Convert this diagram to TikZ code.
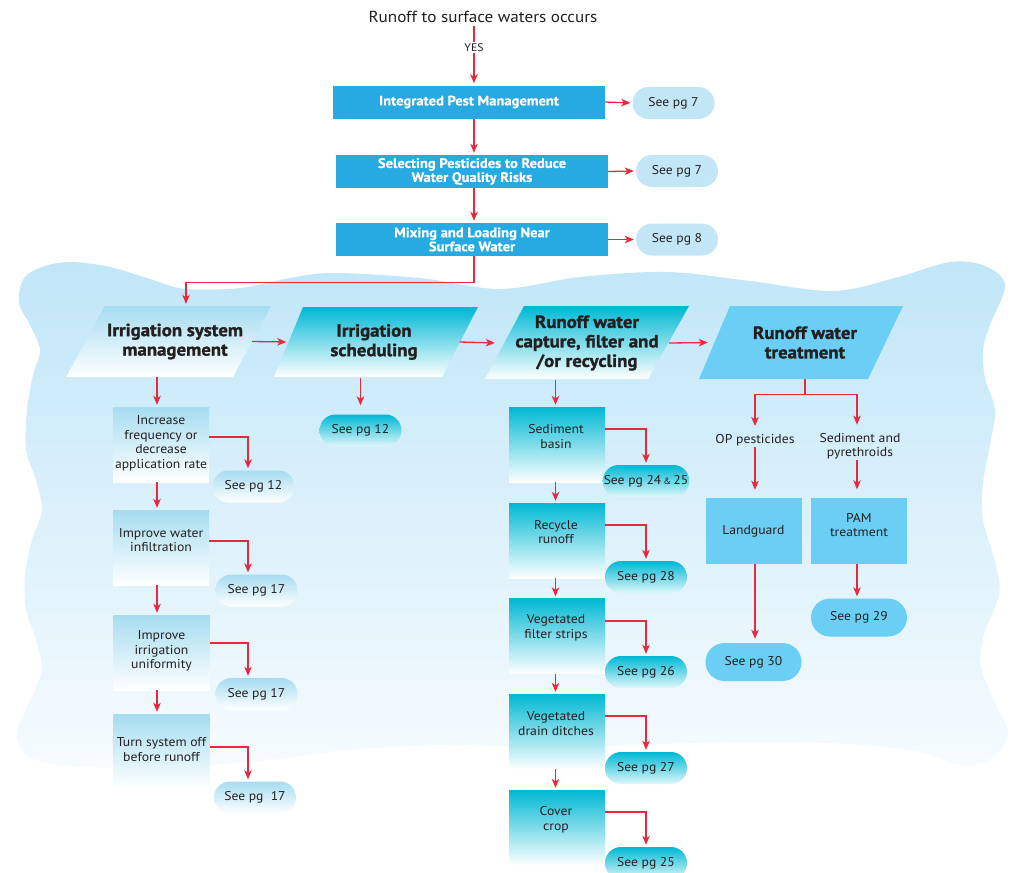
\documentclass[tikz,border=0pt]{standalone}
\usepackage{fontspec}
\setmainfont[FakeStretch=1.07, BoldFeatures={FakeBold=0.6}]{PT Sans}
\newfontfamily\heavyfont[FakeStretch=1.07, BoldFeatures={FakeBold=1.4}]{PT Sans}
\usetikzlibrary{arrows.meta,shapes.misc,calc}
\definecolor{arrred}{HTML}{E8283C}
\definecolor{boxblue}{HTML}{27AAE1}
\definecolor{pillblue}{HTML}{C3E6F7}
\definecolor{lblue}{HTML}{A6DCF0}
\definecolor{cyanc}{HTML}{00B8D4}
\definecolor{skyb}{HTML}{6BCFF5}
\definecolor{bgtop}{HTML}{C0E6F8}
\definecolor{bgbot}{HTML}{F6FBFE}
\definecolor{txt}{HTML}{231F20}
\begin{document}
\begin{tikzpicture}[x=1pt,y=-1pt,
  arr/.style={draw=arrred, line width=1.3pt, shorten >=2pt, -{Stealth[length=9pt,width=7.5pt,inset=2.5pt]}},
  mainbox/.style={rectangle, fill=boxblue, text=white, font=\bfseries\fontsize{13.6}{14}\selectfont, align=center, minimum width=272pt, minimum height=33pt, inner sep=0pt},
  pill/.style={rounded rectangle, minimum width=82pt, minimum height=32pt, inner sep=0pt, text=txt, font=\fontsize{12.7}{15}\selectfont},
  pillL/.style={pill, fill=pillblue},
  pillA/.style={pill, top color=lblue, bottom color=white},
  pillC/.style={pill, top color=cyanc, bottom color=cyanc!12!white},
  pillS/.style={pill, fill=skyb, minimum width=96pt, minimum height=38pt},
  head/.style={rectangle, text=txt, font=\heavyfont\bfseries\fontsize{17.6}{19.5}\selectfont, align=center, minimum height=71pt, inner sep=0pt},
  abox/.style={rectangle, top color=lblue, bottom color=white, minimum width=96pt, minimum height=75pt, inner sep=0pt},
  cbox/.style={rectangle, top color=cyanc, bottom color=white, minimum width=96pt, minimum height=75pt, inner sep=0pt},
  sbox/.style={rectangle, fill=skyb, minimum width=96pt, minimum height=66pt, inner sep=0pt, text=txt, align=center, font=\fontsize{12.8}{14.5}\selectfont},
  ctext/.style={text=txt, align=center, font=\fontsize{12.8}{14.5}\selectfont, inner sep=1pt},
  yesl/.style={fill=white, text=txt, font=\fontsize{11}{12}\selectfont, inner sep=1.5pt}
]
\useasboundingbox (0,0) rectangle (1013,873);

% background water blob
\shade[top color=bgtop, bottom color=bgbot] plot[smooth cycle, tension=0.55] coordinates {
 (24,278) (45,266) (72,262) (110,267) (150,279) (185,289) (240,288) (290,278) (333,273)
 (420,278) (500,289) (580,277) (667,272) (750,281) (833,291) (895,278) (950,262) (985,266)
 (1005,285) (990,325) (983,350) (985,378) (995,410) (990,445) (983,483) (983,520) (996,565)
 (999,595) (984,635) (981,667) (995,703) (1008,733) (993,758) (960,765) (920,752) (850,744)
 (760,742) (660,744) (560,748) (450,745) (350,750) (250,762) (150,768) (70,766) (30,758)
 (17,738) (22,718) (35,690) (42,667) (36,640) (26,610) (25,575) (32,540) (42,510) (36,480)
 (26,450) (27,410) (33,375) (40,350) (30,325) (19,303)};

% top chain
\node[font=\fontsize{16}{18}\selectfont, text=txt] (title) at (483,17) {Runoff to surface waters occurs};
\coordinate (axis) at (474,0);
\node[mainbox] (b1) at (469,102) {Integrated Pest Management};
\node[mainbox] (b2) at (472,171.5) {Selecting Pesticides to Reduce\\Water Quality Risks};
\node[mainbox] (b3) at (472,239.5) {Mixing and Loading Near\\Surface Water};
\node[pillL] (s1) at (673.5,103) {See pg 7};
\node[pillL] (s2) at (677,171) {See pg 7};
\node[pillL] (s3) at (677,239.5) {See pg 8};

\draw[arr] (title.south -| axis) -- node[yesl, pos=0.36]{YES} (b1.north -| axis);
\draw[arr] (b1.south -| axis) -- (b2.north -| axis);
\draw[arr] (b2.south -| axis) -- (b3.north -| axis);
\draw[arr] (b1.east) -- (s1.west);
\draw[arr] (b2.east) -- (s2.west);
\draw[arr] (b3.east) -- (s3.west);

% parallelograms
\shade[top color=lblue, bottom color=white] (105,306) -- (271,306) -- (233,377) -- (66,377) -- cycle;
\node[head, minimum width=154pt] (p1) at (175,341.5) {Irrigation system\\management};
\shade[top color=cyanc, bottom color=white] (303,307) -- (478,307) -- (442,377) -- (274,377) -- cycle;
\node[head, minimum width=171pt] (p2) at (374,342) {Irrigation\\scheduling};
\shade[top color=cyanc, bottom color=white] (524,306) -- (689,306) -- (648,379) -- (485,379) -- cycle;
\node[head, minimum width=164pt, minimum height=73pt] (p3) at (587,343) {Runoff water\\capture, filter and\\/or recycling};
\fill[skyb] (730,306) -- (903,306) -- (868,379) -- (699,379) -- cycle;
\node[head, minimum width=180pt, minimum height=73pt] (p4) at (805,342.5) {Runoff water\\treatment};

\draw[arr] (b3.south -| axis) -- ++(0,26) -| ([xshift=11pt]p1.north);
\draw[arr] (p1.east) -- (p2.west);
\draw[arr] (p2.east) -- ([xshift=-8pt]p3.west);
\draw[arr] (p3.east) -- ([xshift=-5pt]p4.west);

% column A
\coordinate (colA) at (157,0);
\node[abox] (a1) at (161,444.5) {};
\node[ctext] (a1t) at (161,443.5) {Increase\\frequency or\\decrease\\application rate};
\node[abox] (a2) at (161,547.5) {};
\node[ctext] (a2t) at (161,540) {Improve water\\infiltration};
\node[abox] (a3) at (161.5,652.5) {};
\node[ctext] (a3t) at (161.5,651) {Improve\\irrigation\\uniformity};
\node[abox] (a4) at (161.5,751.5) {};
\node[ctext] (a4t) at (161.5,749.5) {Turn system off\\before runoff};
\node[pillA] (ap1) at (253.5,486.5) {See pg 12};
\node[pillA] (ap2) at (256.5,590.5) {See pg 17};
\node[pillA] (ap3) at (256.5,694) {See pg 17};
\node[pillA] (ap4) at (255,797.5) {See pg\ \ 17};

\draw[arr] (p1.south -| colA) -- (a1.north -| colA);
\draw[arr] (a1.south -| colA) -- (a2.north -| colA);
\draw[arr] (a2.south -| colA) -- (a3.north -| colA);
\draw[arr] (a3.south -| colA) -- (a4.north -| colA);
\draw[arr] ([yshift=7.5pt]a1.east) -| ([xshift=-5.5pt]ap1.north);
\draw[arr] ([yshift=6.5pt]a2.east) -| ([xshift=-8.5pt]ap2.north);
\draw[arr] ([yshift=9.5pt]a3.east) -| ([xshift=-8.5pt]ap3.north);
\draw[arr] ([yshift=4.5pt]a4.east) -| ([xshift=-7pt]ap4.north);

% column B
\node[pillC] (bp1) at (360.5,430.5) {See pg 12};
\draw[arr, shorten >=9pt] (bp1.north |- p2.south) -- (bp1.north);

% column C
\coordinate (colC) at (555.5,0);
\node[cbox] (c1) at (557,444.5) {};
\node[ctext] (c1t) at (556,436.5) {Sediment\\basin};
\node[cbox] (c2) at (557,540.5) {};
\node[ctext] (c2t) at (556,532) {Recycle\\runoff};
\node[cbox] (c3) at (557,636) {};
\node[ctext] (c3t) at (556,628) {Vegetated\\filter strips};
\node[cbox] (c4) at (557,731.5) {};
\node[ctext] (c4t) at (556,723.5) {Vegetated\\drain ditches};
\node[cbox] (c5) at (557,827.5) {};
\node[ctext] (c5t) at (556,819.5) {Cover\\crop};
\node[pillC] (cp1) at (646,481) {See pg 24\,{\fontsize{9}{10}\selectfont\&}\,25};
\node[pillC] (cp2) at (646,577) {See pg 28};
\node[pillC] (cp3) at (646,672) {See pg 26};
\node[pillC] (cp4) at (646,768) {See pg 27};
\node[pillC] (cp5) at (646,863) {See pg 25};

\draw[arr] (p3.south -| colC) -- (c1.north -| colC);
\draw[arr] (c1.south -| colC) -- (c2.north -| colC);
\draw[arr] (c2.south -| colC) -- (c3.north -| colC);
\draw[arr] (c3.south -| colC) -- (c4.north -| colC);
\draw[arr] (c4.south -| colC) -- (c5.north -| colC);
\draw[arr] ([yshift=15.5pt]c1.east) -| (cp1.north);
\draw[arr] ([yshift=15.5pt]c2.east) -| (cp2.north);
\draw[arr] ([yshift=15pt]c3.east) -| (cp3.north);
\draw[arr] ([yshift=15.5pt]c4.east) -| (cp4.north);
\draw[arr] ([yshift=15.5pt]c5.east) -| (cp5.north);

% column D
\coordinate (opx) at (755,0);
\coordinate (sedx) at (857,0);
\node[ctext] (op) at (755,440) {OP pesticides};
\node[ctext] (sed) at (860,446) {Sediment and\\pyrethroids};
\node[sbox] (lg) at (753.5,531) {Landguard};
\node[sbox] (pam) at (859,530.5) {};
\node[ctext] (pamt) at (859,525) {PAM\\treatment};
\node[pillS] (dp1) at (753.5,662) {See pg 30};
\node[pillS] (dp2) at (859,617.5) {See pg 29};

\draw[arr, shorten >=7pt] (p4.south) -- ++(0,15) -| (op.north -| opx);
\draw[arr, shorten >=7pt] (p4.south) -- ++(0,15) -| (sed.north -| sedx);
\draw[arr, shorten >=8pt] (op.south -| opx) -- (lg.north -| opx);
\draw[arr, shorten >=8pt] (sed.south -| sedx) -- (pam.north -| sedx);
\draw[arr, shorten >=4pt] (lg.south -| opx) -- (dp1.north -| opx);
\draw[arr] (pam.south -| sedx) -- (dp2.north -| sedx);
\end{tikzpicture}
\end{document}
